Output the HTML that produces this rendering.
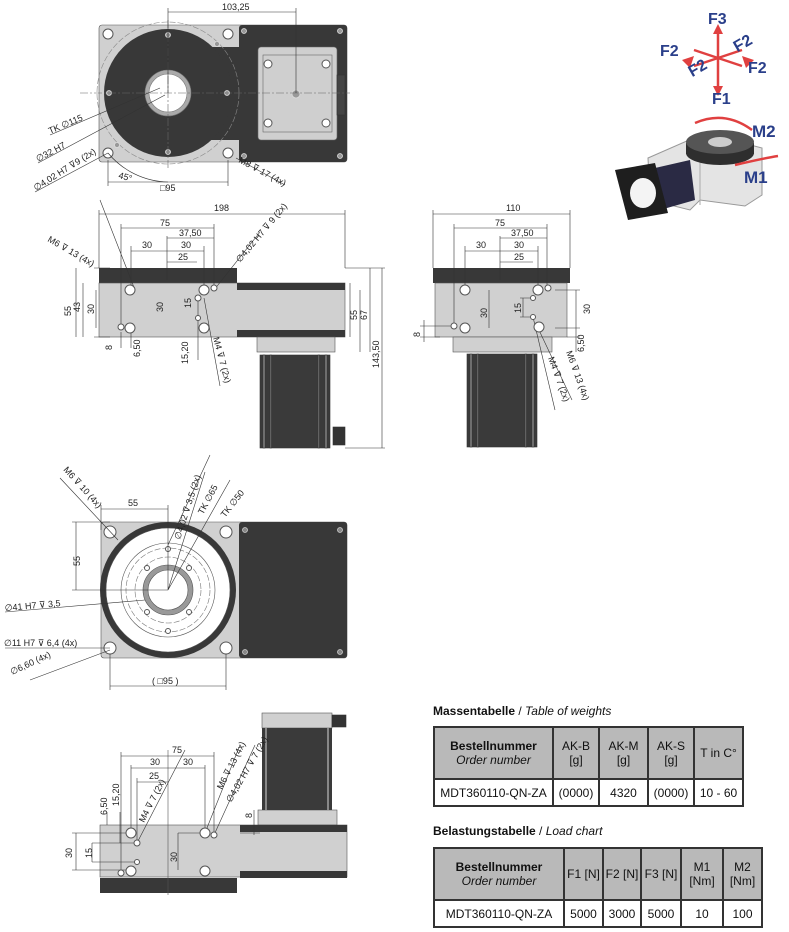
<!DOCTYPE html>
<html><head><meta charset="utf-8"><style>
body{margin:0;background:#fff;width:789px;height:932px;overflow:hidden;font-family:"Liberation Sans",sans-serif}
svg{position:absolute;left:0;top:0}
table{position:absolute;border-collapse:collapse;font-size:12px;color:#111}
td{border:2px solid #333;text-align:center;padding:0;line-height:14px}
th{border:2px solid #333;background:#b9b9b9;font-weight:normal;line-height:14px;padding:0}
.t{position:absolute;font-size:12px;font-weight:bold;color:#111}
</style></head><body>
<svg width="789" height="932" viewBox="0 0 789 932" font-family="Liberation Sans, sans-serif" font-size="9" fill="#222">
<defs>
<g id="motor">
<rect x="0" y="0" width="70" height="93" fill="#3a3a3a"/>
<rect x="3" y="0" width="2" height="93" fill="#888"/><rect x="65" y="0" width="2" height="93" fill="#888"/>
<rect x="10" y="0" width="1.5" height="93" fill="#777"/><rect x="58" y="0" width="1.5" height="93" fill="#777"/>
</g>
</defs>
<g stroke="#333" stroke-width="0.6" fill="none">
<rect x="99" y="25" width="248" height="137" rx="3" fill="#d0d0d0" stroke="#555"/>
<rect x="239" y="25" width="108" height="137" rx="3" fill="#383838" stroke="none"/>
<rect x="168" y="47" width="80" height="93" fill="#383838" stroke="none"/>
<circle cx="168" cy="93" r="64" fill="#383838" stroke="none"/>
<circle cx="168" cy="93" r="71" stroke="#888" stroke-dasharray="6 2"/>
<circle cx="168" cy="93" r="23" fill="#aaa" stroke="#777"/>
<circle cx="168" cy="93" r="19" fill="#fff" stroke="#777"/>
<rect x="258" y="47" width="79" height="93" rx="3" fill="#cfcfcf" stroke="#666"/>
<rect x="263" y="55" width="69" height="77" stroke="#666"/>
<rect x="337" y="75" width="8" height="40" fill="#444"/>
<g fill="#fff" stroke="#555" stroke-width="1">
<circle cx="108" cy="34" r="5"/><circle cx="228" cy="34" r="5"/><circle cx="108" cy="153" r="5"/><circle cx="228" cy="153" r="5"/>
<circle cx="268" cy="64" r="4"/><circle cx="326" cy="64" r="4"/><circle cx="268" cy="123" r="4"/><circle cx="326" cy="123" r="4"/>
</g>
<g fill="#999" stroke="#ddd" stroke-width="0.8">
<circle cx="168" cy="35" r="2.5"/><circle cx="168" cy="152" r="2.5"/><circle cx="109" cy="93" r="2.5"/><circle cx="227" cy="93" r="2.5"/>
<circle cx="244" cy="31" r="2.5"/><circle cx="340" cy="31" r="2.5"/><circle cx="244" cy="156" r="2.5"/><circle cx="340" cy="156" r="2.5"/>
<circle cx="217" cy="44" r="2.5"/><circle cx="117" cy="145" r="2.5"/><circle cx="296" cy="94" r="4"/>
</g>
<path d="M80 93H350M168 20V170" stroke="#666" stroke-dasharray="8 2 2 2"/>
<path d="M168 8V93M296 8V93M168 12H296M108 160V186M228 160V186M108 182H228M50 135L160 88M38 163L165 95M35 192L108 153M236 158L285 185"/>
<path d="M108 153A80 80 0 0 0 168 182" />
<rect x="99" y="268" width="138" height="15" fill="#383838" stroke="none"/>
<rect x="99" y="283" width="246" height="54" fill="#d0d0d0" stroke="#555"/>
<rect x="237" y="283" width="108" height="7" fill="#383838" stroke="none"/>
<rect x="237" y="330" width="108" height="7" fill="#383838" stroke="none"/>
<rect x="257" y="337" width="78" height="15" fill="#d0d0d0" stroke="#555"/>
<use href="#motor" x="260" y="355"/>
<rect x="333" y="427" width="12" height="18" fill="#333"/>
<path d="M99 210V268M345 210V268M99 214H345M121 224V328M214 224V290M121 228H214M167 236V280M167 238H214M131 246V290M204 246V290M131 251H204M167 262H197M94 268H110M94 337H110M76 268V337M83 283V337M96 290V328M350 283V337M360 290V352M370 268V352M382 268V448M345 268H385M345 448H385M100 200L135 290M214 290L260 232M204 298L220 386M121 332V348M131 332V348M198 300V360"/>
<rect x="433" y="268" width="137" height="15" fill="#383838" stroke="none"/>
<rect x="435" y="283" width="132" height="54" fill="#d0d0d0" stroke="#555"/>
<rect x="453" y="337" width="99" height="15" fill="#d0d0d0" stroke="#555"/>
<use href="#motor" x="467" y="354"/>
<path d="M433 210V268M570 210V268M433 214H570M454 224V328M547 224V290M454 228H547M500 236V280M500 238H547M465 246V290M538 246V290M465 251H538M500 262H533M489 290V328M520 298H533M520 317H533M523 298V317M555 290H580M555 328H580M576 290V352M567 337H580M420 326H454M420 337H440M424 320V342M538 328L572 400M533 317L555 410"/>
<rect x="101" y="522" width="246" height="136" rx="3" fill="#d0d0d0" stroke="#555"/>
<rect x="239" y="522" width="108" height="136" rx="3" fill="#383838" stroke="none"/>
<circle cx="168" cy="590" r="68" fill="#383838" stroke="none"/>
<circle cx="168" cy="590" r="62" fill="#fff" stroke="#555"/>
<circle cx="168" cy="590" r="47" stroke="#555"/>
<circle cx="168" cy="590" r="42" stroke="#777" stroke-dasharray="6 2"/>
<circle cx="168" cy="590" r="33" stroke="#777" stroke-dasharray="6 2"/>
<circle cx="168" cy="590" r="25" fill="#999" stroke="#555"/>
<circle cx="168" cy="590" r="20" fill="#fff" stroke="#555"/>
<g fill="#fff" stroke="#555" stroke-width="1">
<circle cx="110" cy="532" r="6"/><circle cx="226" cy="532" r="6"/><circle cx="110" cy="648" r="6"/><circle cx="226" cy="648" r="6"/>
<circle cx="168" cy="549" r="2.5"/><circle cx="168" cy="631" r="2.5"/><circle cx="147" cy="568" r="2.5"/><circle cx="189" cy="568" r="2.5"/><circle cx="147" cy="612" r="2.5"/><circle cx="189" cy="612" r="2.5"/>
</g>
<g fill="#888" stroke="#ccc" stroke-width="0.8"><circle cx="245" cy="530" r="2.5"/><circle cx="340" cy="530" r="2.5"/><circle cx="245" cy="652" r="2.5"/><circle cx="340" cy="652" r="2.5"/></g>
<path d="M101 505V530M168 505V590M101 509H168M76 522V590M72 522H110M72 590H168M60 478L118 540M168 545L210 455M168 590L205 472M168 590L230 480M5 612L145 600M5 648L110 648M30 680L110 650M110 654V690M226 654V690M110 686H226"/>
<rect x="262" y="713" width="70" height="15" fill="#d0d0d0" stroke="#555"/>
<rect x="332" y="715" width="14" height="12" fill="#333"/>
<rect x="258" y="810" width="79" height="15" fill="#d0d0d0" stroke="#555"/>
<rect x="100" y="825" width="247" height="52" fill="#d0d0d0" stroke="#555"/>
<rect x="240" y="825" width="107" height="7" fill="#383838" stroke="none"/>
<rect x="240" y="871" width="107" height="7" fill="#383838" stroke="none"/>
<rect x="100" y="878" width="137" height="15" fill="#383838" stroke="none"/>
<path d="M168 750V895" stroke="#555"/>
<path d="M121 752V873M214 752V833M121 756H214M131 765V833M205 765V833M131 768H205M137 778V843M137 782H168M107 812V825M120 812V843M76 833V870M72 833H131M72 870H131M92 843V862M92 843H137M92 862H137M178 833V870M178 833H205M254 810V835M240 833H260M137 843L185 750M205 833L240 745M214 835L255 745"/>
</g>
<rect x="262" y="728" width="70" height="82" fill="#3a3a3a"/>
<rect x="265" y="728" width="2" height="82" fill="#888"/><rect x="327" y="728" width="2" height="82" fill="#888"/>
<g fill="#fff" stroke="#555">
<circle cx="130" cy="290" r="5"/><circle cx="130" cy="328" r="5"/><circle cx="121" cy="327" r="3"/><circle cx="204" cy="290" r="5"/><circle cx="214" cy="288" r="3"/><circle cx="198" cy="298" r="3"/><circle cx="198" cy="318" r="2.5"/><circle cx="204" cy="328" r="5"/>
<circle cx="465" cy="290" r="5"/><circle cx="538" cy="290" r="5"/><circle cx="548" cy="288" r="3"/><circle cx="533" cy="298" r="2.5"/><circle cx="533" cy="317" r="2.5"/><circle cx="539" cy="327" r="5"/><circle cx="454" cy="326" r="3"/><circle cx="465" cy="328" r="5"/>
<circle cx="131" cy="833" r="5"/><circle cx="137" cy="843" r="3"/><circle cx="137" cy="862" r="2.5"/><circle cx="131" cy="871" r="5"/><circle cx="121" cy="873" r="3"/><circle cx="205" cy="833" r="5"/><circle cx="214" cy="835" r="3"/><circle cx="205" cy="871" r="5"/>
</g>
<text x="222" y="10">103,25</text>
<text x="160" y="191">□95</text>
<text x="118" y="178" transform="rotate(15 118 178)">45°</text>
<text x="50" y="134" transform="rotate(-23 50 134)">TK ∅115</text>
<text x="38" y="162" transform="rotate(-28 38 162)">∅32 H7</text>
<text x="36" y="191" transform="rotate(-32 36 191)">∅4,02 H7 ⊽9 (2x)</text>
<text x="238" y="162" transform="rotate(28 238 162)">M8 ⊽ 17 (4x)</text>
<text x="214" y="211">198</text>
<text x="160" y="226">75</text><text x="179" y="236">37,50</text>
<text x="142" y="248">30</text><text x="181" y="248">30</text><text x="178" y="260">25</text>
<text x="47" y="241" transform="rotate(30 47 241)">M6 ⊽ 13 (4x)</text>
<text x="240" y="263" transform="rotate(-50 240 263)">∅4,02 H7 ⊽ 9 (2x)</text>
<text x="71" y="316" transform="rotate(-90 71 316)">55</text>
<text x="80" y="312" transform="rotate(-90 80 312)">43</text>
<text x="94" y="314" transform="rotate(-90 94 314)">30</text>
<text x="163" y="312" transform="rotate(-90 163 312)">30</text>
<text x="191" y="308" transform="rotate(-90 191 308)">15</text>
<text x="112" y="350" transform="rotate(-90 112 350)">8</text>
<text x="140" y="357" transform="rotate(-90 140 357)">6,50</text>
<text x="188" y="364" transform="rotate(-90 188 364)">15,20</text>
<text x="213" y="338" transform="rotate(75 213 338)">M4 ⊽ 7 (2x)</text>
<text x="357" y="320" transform="rotate(-90 357 320)">55</text>
<text x="367" y="320" transform="rotate(-90 367 320)">67</text>
<text x="379" y="368" transform="rotate(-90 379 368)">143,50</text>
<text x="506" y="211">110</text><text x="495" y="226">75</text><text x="511" y="236">37,50</text>
<text x="476" y="248">30</text><text x="514" y="248">30</text><text x="514" y="260">25</text>
<text x="487" y="318" transform="rotate(-90 487 318)">30</text>
<text x="521" y="313" transform="rotate(-90 521 313)">15</text>
<text x="590" y="314" transform="rotate(-90 590 314)">30</text>
<text x="420" y="337" transform="rotate(-90 420 337)">8</text>
<text x="584" y="352" transform="rotate(-90 584 352)">6,50</text>
<text x="566" y="352" transform="rotate(70 566 352)">M6 ⊽ 13 (4x)</text>
<text x="548" y="358" transform="rotate(70 548 358)">M4 ⊽ 7 (2x)</text>
<text x="128" y="506">55</text>
<text x="80" y="566" transform="rotate(-90 80 566)">55</text>
<text x="63" y="470" transform="rotate(48 63 470)">M6 ⊽ 10 (4x)</text>
<text x="180" y="540" transform="rotate(-72 180 540)">∅4,02 ⊽ 3,5 (2x)</text>
<text x="203" y="515" transform="rotate(-62 203 515)">TK ∅65</text>
<text x="225" y="518" transform="rotate(-52 225 518)">TK ∅50</text>
<text x="5" y="611" transform="rotate(-5 5 611)">∅41 H7 ⊽ 3,5</text>
<text x="4" y="646">∅11 H7 ⊽ 6,4 (4x)</text>
<text x="12" y="675" transform="rotate(-25 12 675)">∅6,60 (4x)</text>
<text x="152" y="684">( □95 )</text>
<text x="172" y="753">75</text><text x="150" y="765">30</text><text x="183" y="765">30</text><text x="149" y="779">25</text>
<text x="107" y="815" transform="rotate(-90 107 815)">6,50</text>
<text x="119" y="806" transform="rotate(-90 119 806)">15,20</text>
<text x="72" y="858" transform="rotate(-90 72 858)">30</text>
<text x="92" y="858" transform="rotate(-90 92 858)">15</text>
<text x="177" y="862" transform="rotate(-90 177 862)">30</text>
<text x="252" y="818" transform="rotate(-90 252 818)">8</text>
<text x="144" y="823" transform="rotate(-63 144 823)">M4 ⊽ 7 (2x)</text>
<text x="222" y="790" transform="rotate(-63 222 790)">M6 ⊽ 13 (4x)</text>
<text x="231" y="803" transform="rotate(-60 231 803)">∅4,02 H7 ⊽ 7 (2x)</text>
<g stroke="#e04040" stroke-width="2.5" fill="none">
<path d="M718 32V88M694 50L742 66M742 50L694 66"/>
</g>
<g fill="#e04040"><path d="M713 34L718 24L723 34Z"/><path d="M713 86L718 96L723 86Z"/><path d="M746 68L754 60L742 56Z"/><path d="M690 68L682 60L694 56Z"/></g>
<g font-weight="bold" font-size="16" fill="#2a3f8a">
<text x="708" y="24">F3</text><text x="660" y="56">F2</text><text x="734" y="50" transform="rotate(-30 740 45)">F2</text>
<text x="688" y="74" transform="rotate(-30 696 68)">F2</text><text x="748" y="73">F2</text><text x="712" y="104">F1</text>
</g>
<path d="M648 158L705 133L762 148L762 195L745 206L700 200L690 210L650 200Z" fill="#e4e4e4" stroke="#999"/>
<path d="M700 158V205" stroke="#aaa"/>
<ellipse cx="720" cy="153" rx="34" ry="12" fill="#2e2e2e"/>
<rect x="686" y="143" width="68" height="11" fill="#2e2e2e"/>
<ellipse cx="720" cy="142" rx="34" ry="12" fill="#555"/>
<ellipse cx="720" cy="142" rx="12" ry="5" fill="#ccc"/>
<path d="M655 168L690 160L695 200L660 210Z" fill="#2a2a44"/>
<path d="M615 170L655 163L668 213L628 220Z" fill="#1e1e1e"/>
<ellipse cx="643" cy="193" rx="13" ry="15" fill="#f4f4f4"/>
<path d="M695 123Q725 110 752 130" stroke="#e04040" stroke-width="2.5" fill="none"/>
<path d="M735 165Q765 158 778 156" stroke="#e04040" stroke-width="2.5" fill="none"/>
<g font-weight="bold" font-size="17" fill="#2a3f8a">
<text x="752" y="137">M2</text><text x="744" y="183">M1</text>
</g>
</svg>
<div class="t" style="left:433px;top:704px">Massentabelle <span style="font-weight:normal">/ <i>Table of weights</i></span></div>
<table style="left:433px;top:726px;width:311px">
<tr style="height:52px"><th style="width:117px"><b>Bestellnummer</b><br><i>Order number</i></th><th style="width:44px">AK-B<br>[g]</th><th style="width:47px">AK-M<br>[g]</th><th style="width:44px">AK-S<br>[g]</th><th>T in C°</th></tr>
<tr style="height:27px"><td>MDT360110-QN-ZA</td><td>(0000)</td><td>4320</td><td>(0000)</td><td>10 - 60</td></tr>
</table>
<div class="t" style="left:433px;top:824px">Belastungstabelle <span style="font-weight:normal">/ <i>Load chart</i></span></div>
<table style="left:433px;top:847px;width:330px">
<tr style="height:52px"><th style="width:128px"><b>Bestellnummer</b><br><i>Order number</i></th><th style="width:37px">F1 [N]</th><th style="width:36px">F2 [N]</th><th style="width:38px">F3 [N]</th><th style="width:40px">M1<br>[Nm]</th><th>M2<br>[Nm]</th></tr>
<tr style="height:27px"><td>MDT360110-QN-ZA</td><td>5000</td><td>3000</td><td>5000</td><td>10</td><td>100</td></tr>
</table>
</body></html>
